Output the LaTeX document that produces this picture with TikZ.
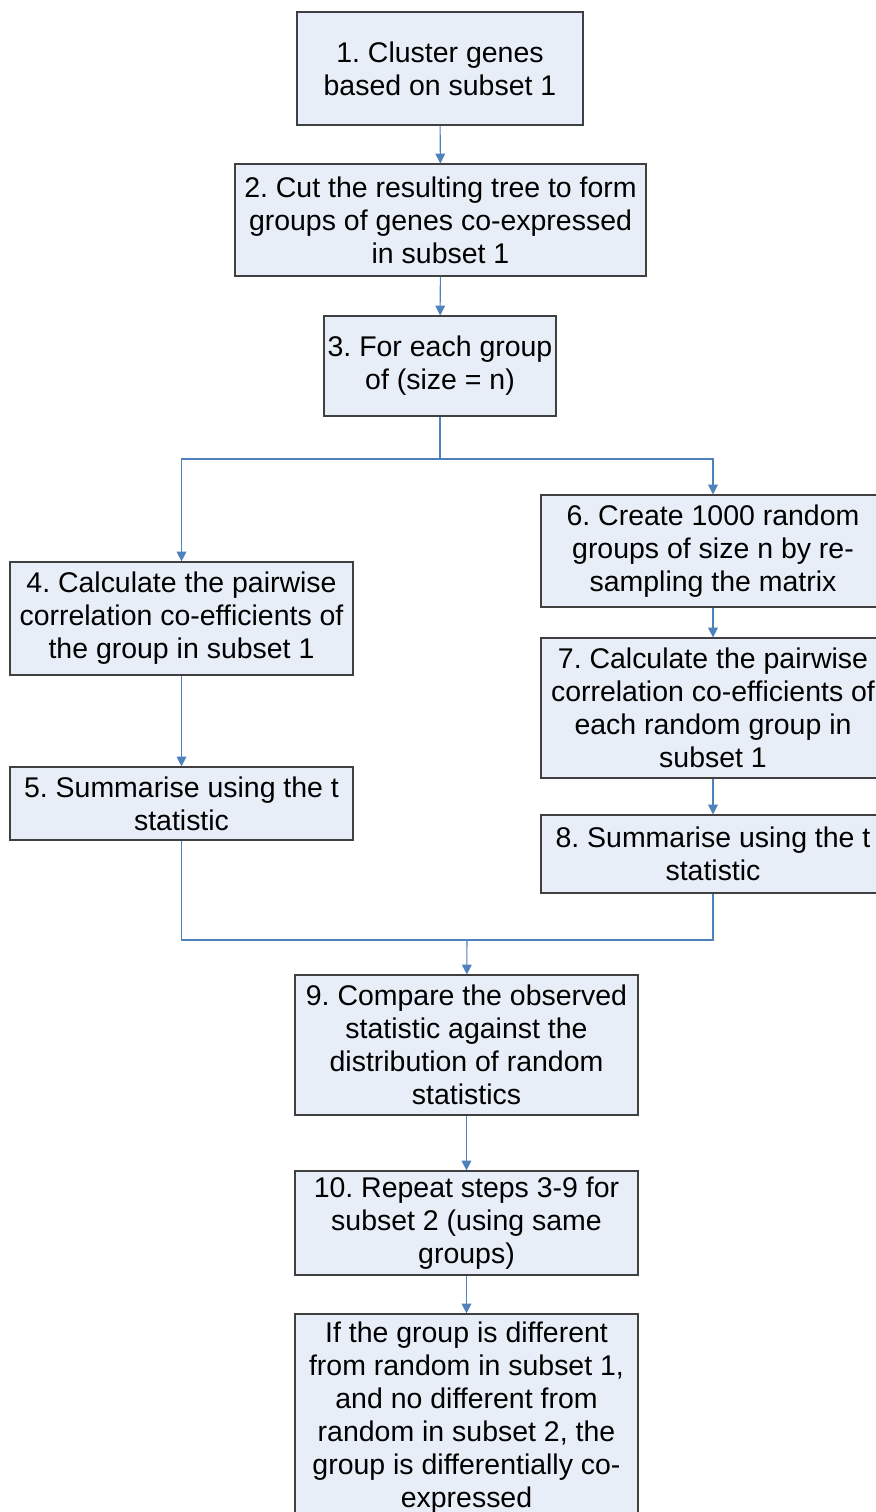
\documentclass[tikz,border=0pt]{standalone}
\usepackage{fontspec}
\setmainfont{Liberation Sans}
\usetikzlibrary{arrows.meta,positioning,calc}
\definecolor{boxfill}{HTML}{E8EEF7}
\definecolor{boxline}{HTML}{404040}
\definecolor{arrblue}{HTML}{4F81BD}
\frenchspacing

\begin{document}
\begin{tikzpicture}[
    stepbox/.style={draw=boxline, line width=0.7pt, fill=boxfill, align=center, inner sep=1pt,
        font=\fontsize{16.2}{18.8}\selectfont},
    link/.style={draw=arrblue, line width=0.6pt},
    arr/.style={link, -{Triangle[length=5.5pt, width=5.5pt]}}
]
\useasboundingbox (0,0) rectangle (17.52,-30.24);
\fill[white] (0,0) rectangle (17.52,-30.24);

\node[stepbox, minimum width=5.72cm, minimum height=2.26cm] (b1) at (8.8,-1.37) {1. Cluster genes\\based on subset 1};
\node[stepbox, minimum width=8.22cm, minimum height=2.24cm] (b2) at (8.81,-4.40) {2. Cut the resulting tree to form\\groups of genes co-expressed\\in subset 1};
\node[stepbox, minimum width=4.64cm, minimum height=2.0cm] (b3) at (8.8,-7.32) {3. For each group\\of (size = n)};
\node[stepbox, minimum width=6.86cm, minimum height=2.26cm] (b4) at (3.63,-12.37) {4. Calculate the pairwise\\correlation co-efficients of\\the group in subset 1};
\node[stepbox, minimum width=6.86cm, minimum height=1.46cm] (b5) at (3.63,-16.07) {5. Summarise using the t\\statistic};
\node[stepbox, minimum width=6.88cm, minimum height=2.24cm] (b6) at (14.26,-11.02) {6. Create 1000 random\\groups of size n by re-\\sampling the matrix};
\node[stepbox, minimum width=6.88cm, minimum height=2.8cm] (b7) at (14.26,-14.16) {7. Calculate the pairwise\\correlation co-efficients of\\each random group in\\subset 1};
\node[stepbox, minimum width=6.88cm, minimum height=1.56cm] (b8) at (14.26,-17.08) {8. Summarise using the t\\statistic};
\node[stepbox, minimum width=6.86cm, minimum height=2.8cm] (b9) at (9.33,-20.9) {9. Compare the observed\\statistic against the\\distribution of random\\statistics};
\node[stepbox, minimum width=6.86cm, minimum height=2.08cm] (b10) at (9.33,-24.46) {10. Repeat steps 3-9 for\\subset 2 (using same\\groups)};
\node[stepbox, minimum width=6.86cm, minimum height=4.16cm] (b11) at (9.33,-28.36) {If the group is different\\from random in subset 1,\\and no different from\\random in subset 2, the\\group is differentially co-\\expressed};

\coordinate (split) at (8.8,-9.18);
\coordinate (join) at (9.34,-18.8);

\draw[arr] (b1) -- (b2);
\draw[arr] (b2) -- (b3);
\draw[link] (b3) -- (split);
\draw[arr] (split) -| (b4);
\draw[arr] (split) -| (b6);
\draw[arr] (b4) -- (b5);
\draw[arr] (b6) -- (b7);
\draw[arr] (b7) -- (b8);
\draw[link] (b5) |- (join);
\draw[link] (b8) |- (join);
\draw[arr] (join) -- (b9);
\draw[arr] (b9) -- (b10);
\draw[arr] (b10) -- (b11);
\end{tikzpicture}
\end{document}
